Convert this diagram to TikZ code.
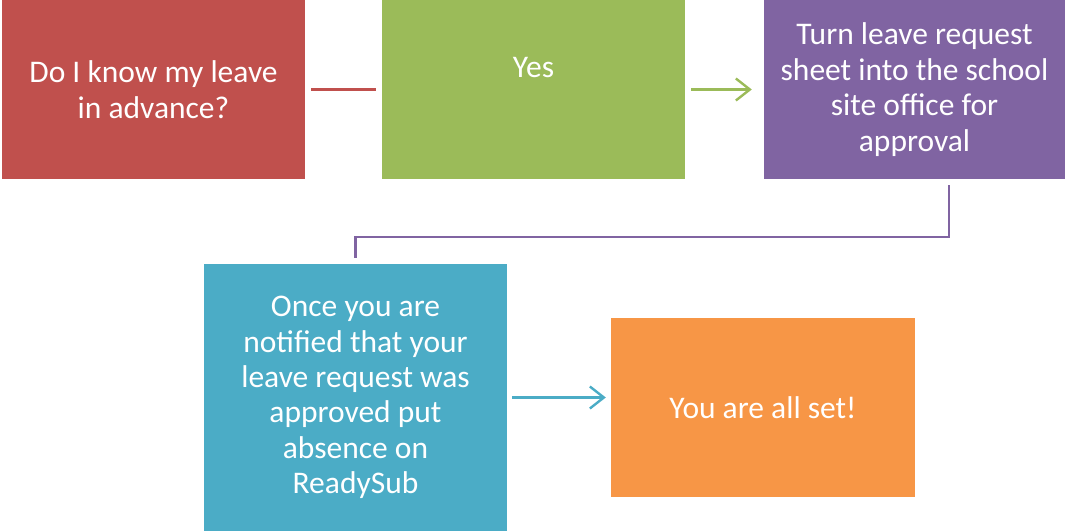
\documentclass[tikz,border=0pt]{standalone}
\usepackage{fontspec}
\setmainfont{Carlito}
\usetikzlibrary{arrows.meta,calc}
\definecolor{cred}{HTML}{C0504D}
\definecolor{cgreen}{HTML}{9BBB59}
\definecolor{cpurple}{HTML}{8064A2}
\definecolor{cteal}{HTML}{4BACC6}
\definecolor{corange}{HTML}{F79646}
\tikzset{
  txt/.style={text=white, font=\fontsize{31.5pt}{35.4pt}\selectfont},
  box/.style={txt, draw=none, minimum width=303pt, minimum height=179pt, inner sep=0pt, align=center},
  conn/.style={line width=2.4pt},
  arr/.style={conn, -{Straight Barb[length=14pt,width=22pt,line width=2.4pt]}},
}
\begin{document}
\begin{tikzpicture}[x=1pt,y=1pt]
\useasboundingbox (0,0) rectangle (1065,-531);
\node[box, fill=cred] (red) at (153.5,-89.5) {Do I know my leave\\in advance?};
\node[box, fill=cgreen] (green) at (533.5,-89.5) {};
\node[txt, inner sep=0pt] (yes) at (533.5,-68) {Yes};
\node[box, fill=cpurple, minimum width=301pt] (purple) at (914.5,-89.5) {Turn leave request\\sheet into the school\\site office for\\approval};
\node[box, fill=cteal, minimum height=267pt] (teal) at (355.5,-397.5) {Once you are\\notified that your\\leave request was\\approved put\\absence on\\ReadySub};
\node[box, fill=corange, minimum width=304pt] (orange) at (763,-407.5) {You are all set!};
\draw[conn, cred, shorten <=6pt, shorten >=6pt] (red.east) -- (green.west);
\draw[arr, cgreen, shorten <=6pt, shorten >=12pt] (green.east) -- (purple.west);
\draw[conn, cpurple] ([shift={(34.5pt,-6pt)}]purple.south) -- ++(0,-52) -| ([yshift=6pt]teal.north);
\draw[arr, cteal, shorten <=5pt, shorten >=5pt] (teal.east) -- (teal.east -| orange.west);
\end{tikzpicture}
\end{document}
